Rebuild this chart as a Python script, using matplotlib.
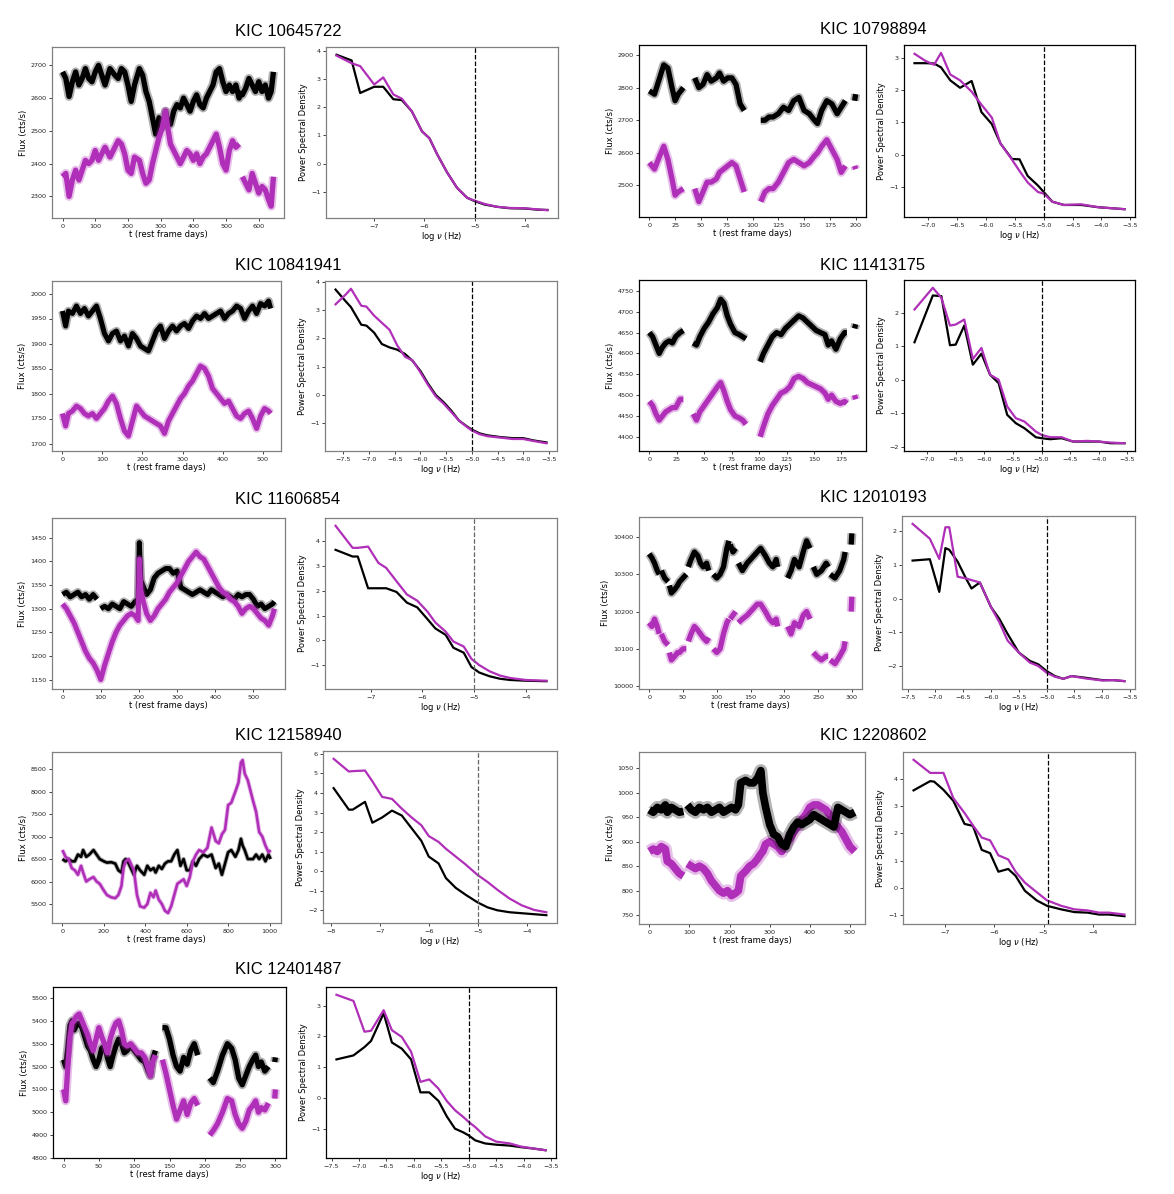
import numpy as np
import matplotlib
matplotlib.use("Agg")
import matplotlib.pyplot as plt
from matplotlib.ticker import MultipleLocator

W, H = 1174, 1194
MAG = "#b02fb8"

# ---------------- light curves (rest frame days, flux cts/s) ----------------
# KIC 10645722
t1 = [0, 10, 20, 30, 40, 50, 60, 70, 80, 90,
      100, 110, 120, 130, 145, 160, 170, 180, 190, 200,
      210, 220, 235, 245, 255, 265, 275, 285, 295, 305,
      315, 320, 330, 340, 350, 360, 370, 380, 390, 400,
      410, 420, 430, 440, 450, 460, 470, 480, 490, 500,
      510, 520, 530, 540, 545, 550, 560, 570, 580, 590,
      600, 610, 620, 630, 638, 645]
k1 = [2680, 2660, 2605, 2650, 2680, 2640, 2660, 2690, 2660, 2650,
      2680, 2700, 2670, 2640, 2690, 2670, 2660, 2690, 2680, 2640,
      2590, 2640, 2690, 2670, 2620, 2590, 2540, 2490, 2540, 2510,
      2560, 2530, 2520, 2560, 2580, 2570, 2600, 2580, 2560, 2590,
      2610, 2580, 2570, 2600, 2620, 2640, 2680, 2690, 2650, 2620,
      2640, 2620, 2640, 2600, 2615, 2610, 2630, 2660, 2640, 2620,
      2650, 2620, 2640, 2600, 2620, 2680]
m1 = [2360, 2370, 2300, 2350, 2380, 2350, 2380, 2410, 2400, 2410,
      2440, 2410, 2430, 2450, 2420, 2450, 2470, 2460, 2430, 2380,
      2370, 2420, 2410, 2370, 2340, 2350, 2400, 2440, 2480, 2510,
      2560, 2520, 2460, 2440, 2420, 2400, 2420, 2440, 2430, 2410,
      2430, 2400, 2420, 2430, 2450, 2470, 2490, 2450, 2400, 2380,
      2440, 2470, 2450, 2460, None, 2360, 2340, 2320, 2370, 2340,
      2310, 2330, 2320, 2290, 2270, 2360]

# KIC 10798894
t2 = [0, 5, 10, 14, 18, 22, 25, 28, 33, 38,
      44, 48, 52, 56, 60, 65, 68, 72, 76, 80,
      84, 88, 92, 100, 108, 112, 116, 120, 125, 130,
      135, 140, 145, 150, 155, 160, 163, 167, 172, 177,
      182, 186, 190, 195, 199, 200]
k2 = [2790, 2780, 2830, 2870, 2860, 2800, 2760, 2780, 2800, None,
      2830, 2800, 2810, 2840, 2820, 2830, 2845, 2820, 2830, 2830,
      2810, 2750, 2730, None, 2700, 2700, 2710, 2710, 2720, 2740,
      2730, 2760, 2770, 2730, 2720, 2700, 2690, 2730, 2760, 2750,
      2720, 2740, 2760, None, 2760, 2780]
m2 = [2570, 2550, 2590, 2620, 2580, 2520, 2470, 2480, 2490, None,
      2490, 2450, 2480, 2510, 2510, 2520, 2540, 2550, 2560, 2570,
      2560, 2520, 2480, None, 2450, 2480, 2490, 2490, 2510, 2540,
      2570, 2580, 2570, 2560, 2570, 2590, 2600, 2620, 2640, 2610,
      2580, 2540, 2560, None, 2560, 2550]

# KIC 10841941
t3 = [0, 8, 15, 25, 35, 45, 55, 65, 75, 85,
      95, 105, 115, 125, 135, 145, 155, 165, 175, 185,
      195, 205, 215, 225, 235, 245, 255, 265, 275, 285,
      295, 305, 315, 325, 335, 345, 355, 365, 375, 385,
      395, 405, 415, 425, 435, 445, 455, 465, 475, 485,
      495, 505, 515, 520]
k3 = [1965, 1935, 1965, 1960, 1975, 1960, 1970, 1955, 1965, 1975,
      1950, 1920, 1905, 1920, 1925, 1905, 1915, 1895, 1920, 1910,
      1895, 1890, 1885, 1905, 1925, 1935, 1910, 1925, 1935, 1925,
      1935, 1940, 1930, 1945, 1955, 1950, 1960, 1950, 1955, 1960,
      1965, 1950, 1960, 1965, 1975, 1970, 1950, 1965, 1975, 1960,
      1980, 1975, 1985, 1970]
m3 = [1760, 1735, 1760, 1765, 1775, 1770, 1760, 1755, 1760, 1750,
      1760, 1770, 1785, 1795, 1780, 1750, 1725, 1715, 1745, 1775,
      1765, 1755, 1750, 1745, 1740, 1735, 1720, 1745, 1760, 1775,
      1790, 1800, 1815, 1825, 1840, 1855, 1850, 1835, 1810, 1800,
      1790, 1780, 1785, 1770, 1755, 1750, 1760, 1765, 1750, 1730,
      1755, 1770, 1765, 1760]

# KIC 11413175
t4 = [0, 3, 6, 9, 12, 15, 18, 21, 24, 28,
      31, 35, 40, 43, 46, 50, 54, 58, 62, 65,
      68, 71, 74, 78, 82, 85, 88, 95, 101, 104,
      108, 112, 116, 120, 124, 128, 132, 136, 140, 144,
      148, 152, 156, 160, 163, 166, 170, 174, 178, 180,
      184, 187, 188]
k4 = [4650, 4640, 4620, 4600, 4615, 4625, 4630, 4625, 4640, 4650,
      4655, None, 4625, 4620, 4640, 4660, 4675, 4695, 4710, 4730,
      4720, 4690, 4670, 4650, 4645, 4640, 4635, None, 4580, 4600,
      4620, 4640, 4650, 4645, 4660, 4670, 4680, 4690, 4685, 4675,
      4665, 4655, 4650, 4645, 4620, 4630, 4610, 4635, 4650, 4650,
      None, 4660, 4670]
m4 = [4485, 4475, 4455, 4440, 4450, 4460, 4465, 4470, 4470, 4490,
      4490, None, 4455, 4440, 4460, 4475, 4490, 4505, 4520, 4530,
      4510, 4485, 4465, 4450, 4445, 4440, 4430, None, 4400, 4425,
      4455, 4475, 4490, 4505, 4510, 4520, 4540, 4545, 4540, 4530,
      4525, 4520, 4515, 4505, 4490, 4500, 4485, 4480, 4485, 4480,
      None, 4500, 4490]

# KIC 11606854
t5 = [0, 10, 20, 30, 40, 50, 60, 70, 80, 90,
      95, 100, 110, 120, 130, 140, 150, 160, 170, 180,
      190, 198, 201, 205, 210, 220, 230, 240, 250, 260,
      270, 280, 290, 300, 310, 320, 330, 340, 350, 360,
      370, 380, 390, 400, 410, 420, 430, 440, 450, 460,
      470, 480, 490, 500, 510, 520, 530, 540, 550, 555]
k5 = [1330, 1335, 1325, 1330, 1335, 1325, 1330, 1320, 1330, 1320,
      None, 1300, 1305, 1300, 1310, 1305, 1300, 1315, 1310, 1305,
      1315, 1320, 1440, 1360, 1350, 1330, 1340, 1365, 1375, 1380,
      1385, 1385, 1375, 1380, 1345, 1340, 1335, 1330, 1335, 1340,
      1335, 1330, 1340, 1335, 1330, 1325, 1330, 1325, 1320, 1330,
      1325, 1330, 1330, 1320, 1305, 1310, 1300, 1305, 1310, 1315]
m5 = [1310, 1300, 1285, 1270, 1250, 1230, 1210, 1195, 1185, 1170,
      1160, 1150, 1180, 1205, 1230, 1250, 1265, 1275, 1285, 1290,
      1285, 1275, 1405, 1340, 1320, 1290, 1275, 1285, 1300, 1310,
      1320, 1335, 1345, 1355, 1370, 1385, 1400, 1410, 1420, 1410,
      1405, 1390, 1375, 1360, 1345, 1335, 1330, 1320, 1315, 1305,
      1290, 1300, 1305, 1300, 1290, 1280, 1275, 1265, 1285, 1300]

# KIC 12010193
t6 = [0, 4, 8, 12, 15, 16, 18, 23, 28, 29,
      30, 33, 38, 42, 45, 50, 55, 57, 58, 62,
      67, 72, 76, 80, 85, 88, 92, 95, 100, 105,
      110, 115, 118, 119, 120, 124, 128, 130, 132, 138,
      145, 150, 155, 160, 165, 172, 178, 183, 188, 190,
      198, 205, 210, 215, 222, 228, 233, 238, 241, 243,
      248, 255, 262, 265, 266, 268, 275, 282, 288, 290,
      295, 299, 300]
k6 = [10355, 10345, 10330, 10310, 10300, None, 10310, 10290, 10280, None,
      10270, 10250, 10260, 10270, 10280, 10290, 10300, None, 10320, 10340,
      10360, 10350, 10330, 10320, 10330, 10310, None, 10300, 10290, 10300,
      10320, 10370, 10390, None, 10380, 10360, 10370, None, 10330, 10310,
      10330, 10340, 10350, 10360, 10370, 10350, 10330, 10320, 10340, 10320,
      None, 10290, 10310, 10340, 10320, 10360, 10390, 10370, None, 10320,
      10300, 10310, 10330, 10320, None, 10300, 10290, 10310, 10340, 10360,
      None, 10380, 10410]
m6 = [10170, 10160, 10180, 10160, 10140, None, 10140, 10120, 10110, None,
      10090, 10070, 10080, 10090, 10090, 10100, 10100, None, 10120, 10140,
      10160, 10150, 10140, 10130, 10120, 10130, None, 10100, 10090, 10100,
      10140, 10170, 10180, None, 10180, 10190, 10200, None, 10170, 10180,
      10190, 10200, 10210, 10220, 10220, 10200, 10180, 10170, 10180, 10160,
      None, 10160, 10140, 10170, 10160, 10190, 10200, 10180, None, 10090,
      10080, 10070, 10080, 10080, None, 10070, 10060, 10080, 10100, 10120,
      None, 10200, 10240]

# KIC 12158940
t7 = [0, 15, 30, 45, 60, 75, 90, 100, 115, 130,
      150, 165, 180, 200, 215, 235, 255, 270, 285, 295,
      305, 320, 335, 345, 360, 375, 395, 410, 425, 440,
      450, 465, 480, 495, 510, 525, 540, 555, 570, 585,
      600, 615, 630, 645, 660, 680, 700, 720, 740, 755,
      770, 785, 800, 815, 835, 850, 862, 870, 880, 895,
      920, 935, 950, 965, 980, 995, 1005]
k7 = [6500, 6450, 6500, 6450, 6450, 6600, 6550, 6700, 6550, 6600,
      6700, 6600, 6500, 6450, 6420, 6430, 6400, 6250, 6200, 6450,
      6500, 6400, 6250, 6150, 6350, 6250, 6150, 6350, 6250, 6300,
      6200, 6350, 6280, 6400, 6450, 6450, 6600, 6700, 6350, 6500,
      6250, 6250, 6450, 6350, 6500, 6600, 6550, 6600, 6300, 6400,
      6150, 6400, 6650, 6700, 6550, 6700, 6950, 6800, 6700, 6500,
      6500, 6600, 6500, 6600, 6450, 6600, 6500]
m7 = [6700, 6550, 6500, 6300, 6250, 6150, 6350, 6200, 6000, 6050,
      6100, 6000, 5950, 5800, 5700, 5650, 5630, 5700, 5900, 6300,
      6450, 6500, 6350, 6250, 5700, 5450, 5420, 5500, 5750, 5650,
      5800, 5600, 5500, 5350, 5300, 5450, 5700, 5950, 6000, 6050,
      5900, 6100, 6450, 6600, 6700, 6650, 6750, 7200, 6900, 6850,
      7050, 7150, 7700, 7750, 8000, 8200, 8650, 8700, 8400, 8250,
      7800, 7550, 7100, 7000, 6800, 6650, 6700]

# KIC 12208602
t8 = [0, 10, 20, 30, 40, 45, 55, 65, 75, 85,
      90, 95, 105, 115, 125, 135, 145, 155, 165, 175,
      185, 195, 205, 215, 222, 228, 240, 250, 260, 270,
      278, 283, 290, 300, 310, 320, 330, 340, 350, 360,
      370, 380, 390, 400, 410, 420, 430, 440, 450, 460,
      470, 480, 490, 500, 512]
k8 = [965, 960, 970, 965, 975, 960, 970, 965, 960, 962,
      None, 975, 965, 960, 970, 965, 970, 960, 965, 970,
      960, 965, 970, 965, 975, 1020, 1025, 1020, 1020, 1030,
      1045, 1000, 970, 935, 915, 910, 895, 890, 915, 930,
      940, 935, 940, 945, 955, 950, 945, 940, 935, 930,
      970, 965, 960, 955, 960]
m8 = [880, 885, 880, 890, 885, 860, 855, 845, 835, 830,
      None, 855, 850, 845, 850, 845, 835, 820, 810, 800,
      795, 800, 790, 795, 800, 830, 840, 850, 855, 865,
      875, 880, 895, 900, 895, 890, 880, 895, 905, 920,
      930, 945, 955, 970, 975, 975, 970, 965, 955, 940,
      930, 920, 905, 890, 880]

# KIC 12401487
t9 = [0, 3, 6, 9, 12, 15, 18, 22, 26, 30,
      34, 38, 42, 46, 50, 54, 58, 62, 66, 70,
      74, 78, 82, 86, 90, 95, 100, 105, 110, 115,
      120, 123, 126, 130, 135, 140, 145, 150, 155, 160,
      165, 170, 175, 180, 185, 190, 200, 207, 212, 218,
      225, 232, 238, 243, 248, 253, 258, 263, 268, 272,
      276, 280, 285, 290, 295, 299, 300]
k9 = [5230, 5200, 5280, 5380, 5400, 5360, 5380, 5390, 5370, 5330,
      5290, 5270, 5230, 5200, 5230, 5280, 5290, 5240, 5200, 5250,
      5290, 5320, 5300, 5260, 5270, 5290, 5270, 5250, 5230, 5220,
      5180, 5160, 5230, 5270, None, 5370, 5370, 5320, 5250, 5200,
      5180, 5240, 5210, 5270, 5300, 5250, None, 5150, 5130, 5180,
      5250, 5300, 5280, 5230, 5150, 5120, 5160, 5200, 5230, 5250,
      5200, 5220, 5180, 5200, None, 5220, 5240]
m9 = [5100, 5050, 5200, 5330, 5390, 5400, 5420, 5430, 5400, 5370,
      5340, 5300, 5270, 5320, 5370, 5330, 5300, 5260, 5320, 5360,
      5390, 5400, 5360, 5300, 5290, 5300, 5280, 5260, 5260, 5240,
      5190, 5160, 5220, 5250, None, 5230, 5170, 5100, 5030, 4970,
      5010, 5050, 4990, 5040, 5060, 5030, None, 4900, 4920, 4950,
      5000, 5060, 5050, 4990, 4950, 4930, 4960, 5010, 5030, 5050,
      5000, 5020, 5010, 5040, None, 5060, 5100]

# ---------------- power spectra (log nu, PSD) ----------------
f1 = [-7.75, -7.45, -7.28, -7.0, -6.82, -6.62, -6.45, -6.25, -6.05, -5.9, -5.75,
      -5.55, -5.35, -5.15, -5.0, -4.8, -4.55, -4.3, -4.0, -3.75, -3.55]
p1k = [3.85, 3.65, 2.5, 2.72, 2.72, 2.28, 2.25, 1.85, 1.15, 0.9, 0.35,
       -0.3, -0.85, -1.2, -1.32, -1.44, -1.52, -1.57, -1.58, -1.62, -1.63]
p1m = [3.82, 3.55, 3.45, 2.8, 3.05, 2.45, 2.3, 1.85, 1.15, 0.9, 0.35,
       -0.3, -0.85, -1.2, -1.3, -1.42, -1.52, -1.56, -1.57, -1.61, -1.64]

f2 = [-7.24, -7.05, -6.9, -6.78, -6.62, -6.45, -6.25, -6.08, -5.9, -5.75,
      -5.55, -5.42, -5.28, -5.1, -5.0, -4.85, -4.65, -4.35, -4.05, -3.6]
p2k = [2.83, 2.83, 2.82, 2.7, 2.3, 2.07, 2.28, 1.32, 0.95, 0.35,
       -0.13, -0.14, -0.65, -0.95, -1.15, -1.45, -1.55, -1.55, -1.62, -1.68]
p2m = [3.12, 2.9, 2.78, 3.15, 2.48, 2.3, 1.95, 1.55, 1.15, 0.35,
       -0.15, -0.5, -0.85, -1.15, -1.2, -1.45, -1.55, -1.53, -1.62, -1.68]

f3 = [-7.65, -7.45, -7.35, -7.15, -7.05, -6.9, -6.75, -6.6, -6.45, -6.3, -6.15, -6.0, -5.85,
      -5.7, -5.55, -5.4, -5.25, -5.1, -5.0, -4.85, -4.7, -4.45, -4.2, -4.0, -3.8, -3.55]
p3k = [3.72, 3.3, 3.1, 2.48, 2.45, 2.2, 1.8, 1.68, 1.6, 1.45, 1.2, 0.85, 0.4,
       0.0, -0.25, -0.55, -0.9, -1.1, -1.22, -1.35, -1.42, -1.48, -1.52, -1.52, -1.6, -1.67]
p3m = [3.2, 3.55, 3.75, 3.15, 3.12, 2.8, 2.55, 2.3, 1.75, 1.35, 1.22, 0.8, 0.35,
       -0.05, -0.3, -0.6, -0.9, -1.12, -1.25, -1.38, -1.45, -1.5, -1.55, -1.55, -1.62, -1.7]

f4 = [-7.22, -6.9, -6.75, -6.6, -6.5, -6.35, -6.2, -6.05, -5.9, -5.75, -5.6,
      -5.45, -5.3, -5.1, -5.0, -4.85, -4.65, -4.45, -4.2, -4.0, -3.8, -3.55]
p4k = [1.12, 2.52, 2.5, 1.03, 1.05, 1.62, 0.45, 0.78, 0.15, -0.1, -1.05,
       -1.3, -1.45, -1.72, -1.75, -1.78, -1.75, -1.85, -1.85, -1.85, -1.9, -1.9]
p4m = [2.1, 2.75, 2.45, 1.62, 1.65, 1.8, 0.62, 0.95, 0.15, 0.0, -0.8,
       -1.15, -1.25, -1.55, -1.65, -1.72, -1.72, -1.85, -1.83, -1.85, -1.88, -1.9]

f5 = [-7.68, -7.35, -7.25, -7.05, -6.85, -6.7, -6.5, -6.3, -6.1, -5.9, -5.75,
      -5.55, -5.4, -5.2, -5.05, -4.9, -4.7, -4.5, -4.3, -4.0, -3.6]
p5k = [3.65, 3.38, 3.38, 2.1, 2.1, 2.1, 1.95, 1.52, 1.33, 0.85, 0.48,
       0.22, -0.3, -0.5, -1.08, -1.3, -1.45, -1.55, -1.6, -1.63, -1.65]
p5m = [4.62, 3.73, 3.73, 3.78, 3.12, 2.92, 2.38, 1.85, 1.6, 1.15, 0.72,
       0.35, -0.05, -0.25, -0.75, -1.0, -1.25, -1.42, -1.52, -1.6, -1.63]

f6 = [-7.41, -7.1, -6.93, -6.82, -6.75, -6.6, -6.45, -6.35, -6.2, -6.0, -5.85, -5.7,
      -5.5, -5.3, -5.15, -5.0, -4.85, -4.7, -4.55, -4.3, -4.0, -3.8, -3.6]
p6k = [1.13, 1.17, 0.2, 1.5, 1.45, 1.1, 0.6, 0.3, 0.48, -0.25, -0.6, -1.05,
       -1.6, -1.85, -1.95, -2.15, -2.3, -2.38, -2.3, -2.35, -2.42, -2.42, -2.45]
p6m = [2.22, 1.78, 1.18, 2.12, 2.12, 0.65, 0.6, 0.55, 0.48, -0.25, -0.7, -1.25,
       -1.6, -1.9, -2.0, -2.2, -2.32, -2.38, -2.3, -2.37, -2.43, -2.42, -2.45]

f7 = [-7.94, -7.63, -7.55, -7.3, -7.15, -6.95, -6.75, -6.55, -6.35, -6.15, -6.0,
      -5.8, -5.65, -5.45, -5.25, -5.0, -4.8, -4.6, -4.35, -4.1, -3.85, -3.6]
p7k = [4.25, 3.15, 3.15, 3.55, 2.48, 2.75, 3.1, 2.85, 2.2, 1.55, 0.75,
       0.4, -0.35, -0.85, -1.2, -1.6, -1.85, -2.0, -2.1, -2.15, -2.2, -2.25]
p7m = [5.75, 5.1, 5.12, 5.15, 4.6, 3.8, 3.7, 3.2, 2.75, 2.35, 1.8,
       1.5, 1.15, 0.75, 0.35, -0.2, -0.55, -0.95, -1.4, -1.75, -1.98, -2.1]

f8 = [-7.65, -7.31, -7.23, -7.04, -6.84, -6.61, -6.44, -6.26, -6.09, -5.92, -5.72,
      -5.57, -5.38, -5.14, -4.93, -4.64, -4.37, -4.1, -3.87, -3.67, -3.35]
p8k = [3.58, 3.92, 3.9, 3.6, 3.2, 2.35, 2.28, 1.4, 1.28, 0.6, 0.7,
       0.45, -0.1, -0.45, -0.65, -0.78, -0.88, -0.9, -0.97, -0.97, -1.03]
p8m = [4.7, 4.22, 4.22, 4.22, 3.3, 2.75, 2.3, 1.85, 1.75, 1.2, 1.05,
       0.6, 0.2, -0.15, -0.45, -0.65, -0.78, -0.82, -0.9, -0.9, -0.97]

f9 = [-7.41, -7.1, -6.9, -6.78, -6.55, -6.4, -6.22, -6.05, -5.88, -5.72, -5.55,
      -5.4, -5.25, -5.1, -5.0, -4.88, -4.7, -4.5, -4.25, -4.05, -3.8, -3.6]
p9k = [1.25, 1.38, 1.65, 1.85, 2.75, 1.8, 1.6, 1.25, 0.18, 0.18, -0.1,
       -0.6, -1.0, -1.12, -1.22, -1.38, -1.48, -1.52, -1.55, -1.6, -1.65, -1.7]
p9m = [3.35, 3.15, 2.15, 2.18, 2.85, 2.2, 1.98, 1.5, 0.52, 0.6, 0.3,
       -0.1, -0.4, -0.62, -0.78, -0.95, -1.25, -1.42, -1.48, -1.58, -1.65, -1.7]

names = ["KIC 10645722", "KIC 10798894", "KIC 10841941", "KIC 11413175",
         "KIC 11606854", "KIC 12010193", "KIC 12158940", "KIC 12208602",
         "KIC 12401487"]

# layout in pixels: (left, top, right, bottom) of each axes, title centre
lc_box = [(52, 47, 284, 218), (639, 45, 866, 217),
          (52, 281, 281, 451), (639, 280, 866, 451),
          (52, 518, 285, 689), (639, 517, 862, 689),
          (52, 752, 281, 923), (639, 752, 865, 924),
          (53, 987, 286, 1158)]
psd_box = [(326, 47, 558, 218), (904, 45, 1135, 217),
           (325, 281, 557, 451), (904, 280, 1135, 451),
           (325, 518, 557, 689), (902, 516, 1135, 689),
           (323, 751, 557, 923), (903, 752, 1135, 924),
           (326, 987, 556, 1158)]
title_xy = [(288, 31), (873, 29), (288, 265), (873, 265), (288, 500),
            (873, 498), (288, 735), (873, 735), (288, 970)]

lc_ylim = [(2234, 2756), (2403, 2931), (1685, 2025), (4366, 4776), (1130, 1492),
           (9992, 10454), (5078, 8880), (732, 1083), (4800, 5548)]
lc_xstep = [100, 25, 100, 25, 100, 50, 200, 100, 50]
lc_ystep = [100, 100, 50, 50, 50, 100, 500, 50, 100]
lc_lw = [3.8, 3.8, 3.6, 3.8, 3.6, 3.8, 1.9, 5.5, 3.8]
psd_xstep = [1, 0.5, 0.5, 0.5, 1, 0.5, 1, 1, 0.5]
vline_x = [-5, -5, -5, -5, -5, -5, -5, -4.9, -5]
vline_col = ["k", "k", "k", "k", "#666666", "k", "#666666", "k", "k"]
frame_col = ["#808080", "k", "#808080", "k", "#808080", "#808080",
             "#808080", "#808080", "k"]
black_on_top = [False, False, False, False, False, False, False, True, False]

lcs = [(t1, k1, m1), (t2, k2, m2), (t3, k3, m3), (t4, k4, m4), (t5, k5, m5),
       (t6, k6, m6), (t7, k7, m7), (t8, k8, m8), (t9, k9, m9)]
psds = [(f1, p1k, p1m), (f2, p2k, p2m), (f3, p3k, p3m), (f4, p4k, p4m),
        (f5, p5k, p5m), (f6, p6k, p6m), (f7, p7k, p7m), (f8, p8k, p8m),
        (f9, p9k, p9m)]


def rect(box):
    l, t, r, b = box
    return [l / W, 1 - b / H, (r - l) / W, (b - t) / H]


def style(ax, col):
    for s in ax.spines.values():
        s.set_color(col)
        s.set_linewidth(0.9)
    ax.tick_params(labelsize=4.6, length=2.5, width=0.6, pad=1.5,
                   colors="#222222")


def band(ax, t, y, color, lw, z):
    # soft halo plus a solid core, so the curve reads like a dense scatter band
    ax.plot(t, y, color=color, lw=lw * 1.7, alpha=0.3, zorder=z,
            solid_capstyle="butt", solid_joinstyle="round")
    ax.plot(t, y, color=color, lw=lw, zorder=z + 0.5,
            solid_capstyle="butt", solid_joinstyle="round")


fig = plt.figure(figsize=(W / 100, H / 100), dpi=100)

for i in range(9):
    t, kb, km = lcs[i]
    t = np.array(t, dtype=float)
    kb = np.array(kb, dtype=float)
    km = np.array(km, dtype=float)

    ax = fig.add_axes(rect(lc_box[i]))
    zk, zm = (4, 2) if black_on_top[i] else (2, 4)
    band(ax, t, kb, "k", lc_lw[i], zk)
    band(ax, t, km, MAG, lc_lw[i], zm)
    ax.set_ylim(*lc_ylim[i])
    ax.xaxis.set_major_locator(MultipleLocator(lc_xstep[i]))
    ax.yaxis.set_major_locator(MultipleLocator(lc_ystep[i]))
    ax.set_xlabel("t (rest frame days)", fontsize=6, labelpad=1)
    ax.set_ylabel("Flux (cts/s)", fontsize=6, labelpad=2)
    style(ax, frame_col[i])

    f, pb, pm = psds[i]
    ax2 = fig.add_axes(rect(psd_box[i]))
    ax2.plot(f, pb, color="k", lw=1.6)
    ax2.plot(f, pm, color=MAG, lw=1.6)
    ax2.axvline(vline_x[i], color=vline_col[i], ls="--", lw=0.9)
    ax2.xaxis.set_major_locator(MultipleLocator(psd_xstep[i]))
    ax2.yaxis.set_major_locator(MultipleLocator(1))
    ax2.set_xlabel(r"log $\nu$ (Hz)", fontsize=6, labelpad=1)
    ax2.set_ylabel("Power Spectral Density", fontsize=6, labelpad=2)
    style(ax2, frame_col[i])

    tx, ty = title_xy[i]
    fig.text(tx / W, 1 - ty / H, names[i], ha="center", va="center",
             fontsize=12, family=["Liberation Sans", "DejaVu Sans"])

fig.savefig("out.png", dpi=100)
